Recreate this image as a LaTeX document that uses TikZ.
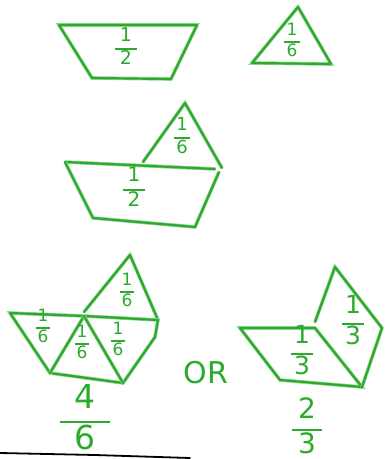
\documentclass[tikz,border=0pt]{standalone}
\usepackage{fontspec}
\setmainfont{DejaVu Sans}
\definecolor{pen}{RGB}{45,170,45}
\definecolor{penglow}{RGB}{150,215,150}
\newcommand\hfr[3]{\begin{tabular}{@{}c@{}}#2\\[-0.3em]\rule[0.25em]{#1}{2pt}\\[-0.5em]#3\end{tabular}}
\begin{document}
\begin{tikzpicture}[x=1pt,y=-1pt,
  sk/.style={draw=pen,line width=2.2pt,line cap=round,line join=round,
    preaction={draw=penglow,line width=3.6pt}},
  lbl/.style={text=pen,font=\fontsize{20}{20}\selectfont,inner sep=0pt},
  big/.style={text=pen,font=\fontsize{33}{33}\selectfont,inner sep=0pt}]
\useasboundingbox (0,0) rectangle (384,459);
% top trapezoid
\draw[sk] (59,25) -- (197,25) -- (171,79) -- (92,78) -- cycle;
\node[lbl,font=\fontsize{19}{19}\selectfont] (h1) at (126,49) {\hfr{22pt}{1}{2}};
% top triangle
\draw[sk] (298,7) -- (331,64) -- (252,63) -- cycle;
\node[lbl,font=\fontsize{17}{17}\selectfont] (s1) at (292,42) {\hfr{16pt}{1}{6}};
% middle figure
\draw[sk] (65,162) -- (215,169);
\draw[sk] (219,172) -- (195,227) -- (93,218) -- (65,162);
\draw[sk] (143,162) -- (185,103) -- (222,168);
\node[lbl,font=\fontsize{18}{18}\selectfont] (s2) at (182,138) {\hfr{16pt}{1}{6}};
\node[lbl] (h2) at (134,190) {\hfr{22pt}{1}{2}};
% bottom left figure
\draw[sk] (84,312) -- (130,255) -- (158,320);
\draw[sk] (10,313) -- (84,316) -- (158,320) -- (155,337) -- (123,383) -- (50,373) -- cycle;
\draw[sk] (84,316) -- (50,373);
\draw[sk] (84,316) -- (123,383);
\node[lbl,font=\fontsize{17}{17}\selectfont] (b1) at (127,292) {\hfr{14pt}{1}{6}};
\node[lbl,font=\fontsize{17}{17}\selectfont] (b2) at (43,328) {\hfr{14pt}{1}{6}};
\node[lbl,font=\fontsize{17}{17}\selectfont] (b3) at (82,344) {\hfr{14pt}{1}{6}};
\node[lbl,font=\fontsize{17}{17}\selectfont] (b4) at (118,341) {\hfr{14pt}{1}{6}};
\node[big] (f46) at (85,422) {\hfr{50pt}{4}{6}};
% OR
\node[big,font=\fontsize{30}{30}\selectfont] (or) at (206,373) {OR};
% bottom right figure
\draw[sk] (240,328) -- (315,328) -- (362,387) -- (280,380) -- cycle;
\draw[sk] (315,322) -- (335,267) -- (382,328) -- (362,387);
\node[lbl,font=\fontsize{25}{25}\selectfont] (t1) at (302,354) {\hfr{22pt}{1}{3}};
\node[lbl,font=\fontsize{25}{25}\selectfont] (t2) at (353,324) {\hfr{22pt}{1}{3}};
\node[big,font=\fontsize{28}{28}\selectfont] (f23) at (307,430) {\hfr{30pt}{2}{3}};
% baseline stroke
\draw[black,line width=1.8pt,line cap=round] (0,453) -- (95,455) -- (190,458);
\end{tikzpicture}
\end{document}
